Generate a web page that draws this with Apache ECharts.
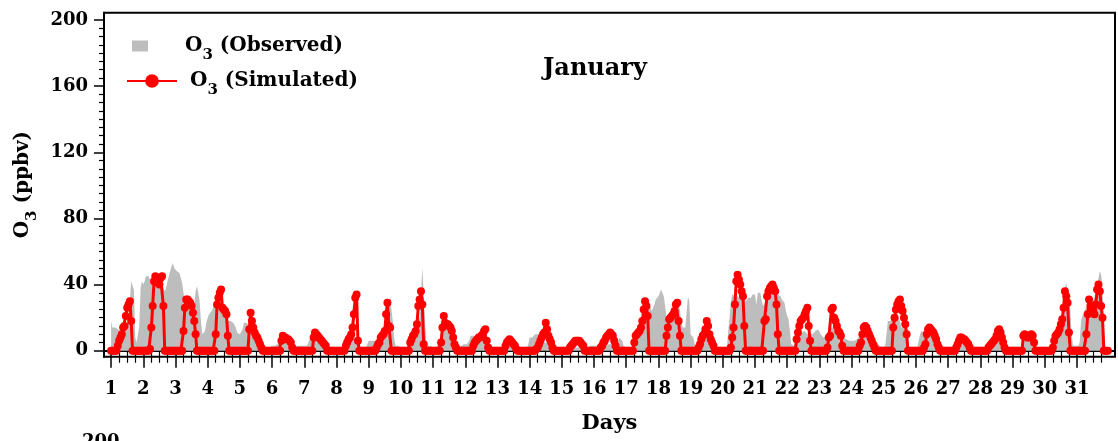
<!DOCTYPE html>
<html>
<head>
    <meta charset="utf-8">
    <script src="https://cdn.jsdelivr.net/npm/echarts@6/dist/echarts.min.js"></script>
    <style>
        body { margin: 0; background: #fff; }
    </style>
</head>
<body>
    <div id="main" style="width: 1118px; height: 441px"></div>
    <script type="text/javascript">
        // day labels on the x axis
        var days = [1,2,3,4,5,6,7,8,9,10,11,12,13,14,15,16,17,18,19,20,21,22,23,24,25,26,27,28,29,30,31];
        var yTicks = [0, 40, 80, 120, 160, 200];

        // hourly O3 (ppbv), one row of 24 hours per day of January
        var simulated = [
            [0,0,0,0,0,3,6,8,10,14,15,21,26,28,30,18,0,0,0,0,0,0,0,0],
            [0,0,0,0,0,1,14,27,42,45,43,41,40,44,45,27,0,0,0,0,0,0,0,0],
            [0,0,0,0,0,0,12,26,31,31,30,29,27,23,18,10,0,0,0,0,0,0,0,0],
            [0,0,0,0,0,0,10,28,32,35,37,26,25,24,22,9,0,0,0,0,0,0,0,0],
            [0,0,0,0,0,0,0,13,23,18,14,11,9,8,6,4,2,0,0,0,0,0,0,0],
            [0,0,0,0,0,0,0,6,9,8,8,7,7,6,5,2,0,0,0,0,0,0,0,0],
            [0,0,0,0,0,0,0,8,11,10,9,8,7,6,5,4,3,0,0,0,0,0,0,0],
            [0,0,0,0,0,0,0,3,5,7,8,10,14,22,32,34,6,0,0,0,0,0,0,0],
            [0,0,0,0,0,0,2,4,5,8,9,10,12,22,29,15,14,0,0,0,0,0,0,0],
            [0,0,0,0,0,0,0,5,7,9,10,12,16,27,31,36,28,4,0,0,0,0,0,0],
            [0,0,0,0,0,0,5,14,21,17,16,16,15,14,12,8,4,2,0,0,0,0,0,0],
            [0,0,0,0,0,0,3,5,6,7,8,8,9,10,12,13,6,2,0,0,0,0,0,0],
            [0,0,0,0,0,0,3,5,6,7,6,5,4,3,1,0,0,0,0,0,0,0,0,0],
            [0,0,0,0,0,1,2,4,6,8,10,11,17,13,9,7,5,2,0,0,0,0,0,0],
            [0,0,0,0,0,0,2,3,4,5,6,6,6,6,5,4,3,0,0,0,0,0,0,0],
            [0,0,0,0,0,2,3,5,6,8,9,10,11,10,9,6,3,0,0,0,0,0,0,0],
            [0,0,0,0,0,0,5,9,10,11,12,14,18,25,30,27,21,0,0,0,0,0,0,0],
            [0,0,0,0,0,0,9,14,19,20,21,22,24,28,29,18,9,0,0,0,0,0,0,0],
            [0,0,0,0,0,0,2,4,7,9,10,13,18,15,10,7,5,3,0,0,0,0,0,0],
            [0,0,0,0,0,0,2,8,14,28,42,46,43,40,36,33,15,0,0,0,0,0,0,0],
            [0,0,0,0,0,0,0,18,19,33,36,38,39,40,38,36,28,10,0,0,0,0,0,0],
            [0,0,0,0,0,0,0,7,11,15,18,19,20,22,24,26,15,6,0,0,0,0,0,0],
            [0,0,0,0,0,0,2,8,9,25,26,20,18,15,12,11,9,3,0,0,0,0,0,0],
            [0,0,0,0,0,0,3,5,10,14,15,14,12,10,8,6,4,2,0,0,0,0,0,0],
            [0,0,0,0,0,0,0,14,20,25,28,30,31,27,24,20,16,10,0,0,0,0,0,0],
            [0,0,0,0,0,0,2,4,10,13,14,13,12,11,9,7,4,2,0,0,0,0,0,0],
            [0,0,0,0,0,0,2,4,6,8,8,7,7,6,5,4,2,0,0,0,0,0,0,0],
            [0,0,0,0,0,0,2,3,4,5,6,7,9,12,13,11,8,5,2,0,0,0,0,0],
            [0,0,0,0,0,0,0,0,9,10,9,8,8,9,10,9,5,0,0,0,0,0,0,0],
            [0,0,0,0,0,0,2,6,9,10,11,13,16,19,26,36,33,29,11,0,0,0,0,0],
            [0,0,0,0,0,0,0,10,22,31,27,25,24,22,28,37,40,36,27,20,0,0,0,0]
        ];

        var observed = [
            [18,14,15,14,14,13,12,12,11,12,12,14,15,20,30,42,42,37,8,5,6,15,38,42],
            [40,42,45,46,45,45,41,39,40,42,43,43,44,45,40,38,36,38,42,45,48,51,53,50],
            [49,48,48,47,44,41,35,29,27,26,25,24,22,21,28,36,39,35,30,18,10,9,12,17],
            [20,22,23,24,26,27,30,33,30,27,24,23,22,21,20,18,18,18,18,17,16,14,11,10],
            [10,10,13,17,17,17,17,15,12,10,8,8,6,6,4,3,3,2,2,3,2,3,2,3],
            [3,3,3,3,4,6,7,8,8,7,6,6,6,6,4,3,3,3,3,3,3,3,3,3],
            [3,3,3,5,7,7,7,7,7,7,7,7,7,4,2,2,2,2,2,2,2,2,2,2],
            [2,2,2,2,2,6,6,6,6,6,6,12,28,15,8,6,3,2,2,2,2,2,2,2],
            [6,6,6,6,6,6,6,6,6,5,5,7,10,15,22,28,33,25,18,8,3,3,3,3],
            [2,2,2,2,2,3,4,6,6,6,6,6,12,18,20,35,50,35,17,6,3,3,3,3],
            [2,2,2,2,4,6,12,14,14,14,14,14,10,10,10,10,6,3,3,3,3,3,3,4],
            [4,4,4,6,9,9,9,9,9,9,8,8,8,8,8,8,2,2,2,2,2,2,2,2],
            [2,2,2,2,3,3,3,3,3,3,3,3,3,2,2,2,2,2,2,2,2,2,2,4],
            [8,8,8,8,10,10,10,10,10,6,5,5,5,5,5,4,4,4,4,4,4,2,2,2],
            [2,2,2,2,2,2,2,2,2,2,2,2,2,2,2,2,2,2,2,2,2,3,3,3],
            [3,3,3,3,3,3,3,3,4,4,4,4,4,4,6,6,6,6,6,8,8,6,3,2],
            [2,2,2,2,2,2,3,5,7,10,13,14,16,20,28,31,30,29,28,24,23,28,31,32],
            [33,35,37,38,33,27,20,17,18,20,24,24,25,27,28,27,25,18,14,13,14,15,33,30],
            [10,9,8,4,3,3,3,7,8,7,8,9,10,10,9,10,9,5,4,3,2,2,2,2],
            [2,2,2,2,12,20,30,34,33,33,32,33,32,31,32,33,32,30,31,32,31,32,34,35],
            [34,28,35,36,35,30,27,28,30,32,33,34,35,35,34,33,34,34,33,33,31,30,29,24],
            [21,19,12,4,3,3,4,9,10,9,10,11,12,12,11,10,9,10,9,10,11,12,13,13],
            [12,10,9,8,8,9,10,12,13,14,13,14,13,12,8,7,8,7,8,7,7,6,6,6],
            [6,7,6,6,7,8,9,8,10,12,13,12,13,12,10,7,6,7,6,5,4,3,2,2],
            [2,3,10,18,19,18,19,20,22,23,22,21,18,14,13,14,13,12,4,2,2,2,2,2],
            [2,2,2,10,12,13,11,10,10,10,10,10,10,10,10,9,2,2,2,2,2,2,2,2],
            [2,2,2,2,2,2,8,8,8,8,8,8,8,8,8,4,2,2,2,2,2,2,2,2],
            [2,2,2,2,2,2,2,6,6,6,6,6,12,12,12,12,12,2,2,2,2,2,2,2],
            [2,2,2,2,2,2,2,2,8,8,8,8,8,8,8,8,2,2,2,2,2,2,2,2],
            [2,2,2,2,2,2,2,5,7,8,10,15,17,20,30,38,41,40,30,25,10,3,3,3],
            [3,3,5,18,21,22,25,26,27,28,29,28,30,32,36,38,44,48,46,38,15,2,1,1]
        ];

        var FONT = 'DejaVu Serif';

        function hourly(rows) {
            var out = [];
            for (var d = 0; d < rows.length; d++) {
                for (var h = 0; h < rows[d].length; h++) {
                    out.push([days[d] + h / 24, rows[d][h]]);
                }
            }
            return out;
        }

        function minorValues(from, to, step, skip) {
            var out = [];
            for (var v = from; v <= to + 1e-9; v += step) {
                if (Math.abs(v / skip - Math.round(v / skip)) > 1e-6) out.push(+v.toFixed(4));
            }
            return out;
        }

        var subRich = {
            b: { fontFamily: FONT, fontWeight: 'bold', fontSize: 20, lineHeight: 34, color: '#000' },
            s: { fontFamily: FONT, fontWeight: 'bold', fontSize: 15, lineHeight: 15, verticalAlign: 'bottom', color: '#000' },
            sp: { width: 32 },
            sp2: { width: 8 }
        };

        window.onload = function () {
            var myChart = echarts.init(document.getElementById('main'));
            var xMin = 0.78, xMax = 32.18, yMin = -3.6, yMax = 204.4;
            var tickFont = { fontFamily: FONT, fontWeight: 'bold', fontSize: 18, color: '#000' };

            option = {
                animation: false,
                title: {
                    text: 'January',
                    left: 543,
                    top: 57,
                    padding: 0,
                    textStyle: { fontFamily: FONT, fontWeight: 'bold', fontSize: 24, color: '#000' }
                },
                legend: [{
                    data: [{ name: 'obs', icon: 'rect' }],
                    left: 132,
                    top: 36,
                    padding: 0,
                    itemWidth: 16,
                    itemHeight: 11,
                    selectedMode: false,
                    formatter: function () { return '{sp|}{b|O}{s|3}{b| (Observed)}'; },
                    textStyle: { rich: subRich }
                }, {
                    data: ['sim'],
                    left: 126,
                    top: 71,
                    padding: 0,
                    itemWidth: 50,
                    itemHeight: 17,
                    selectedMode: false,
                    formatter: function () { return '{sp2|}{b|O}{s|3}{b| (Simulated)}'; },
                    textStyle: { rich: subRich }
                }],
                grid: {
                    left: 104,
                    right: 3,
                    top: 12.7,
                    bottom: 84.3,
                    show: true,
                    borderColor: '#000',
                    borderWidth: 2,
                    outerBoundsMode: 'none'
                },
                // the x axes sit on the zero line, so their ticks are made long
                // enough to reach below the frame
                xAxis: [{
                    type: 'value',
                    position: 'bottom',
                    min: xMin,
                    max: xMax,
                    name: 'Days',
                    nameLocation: 'middle',
                    nameGap: 56,
                    nameTextStyle: { fontFamily: FONT, fontWeight: 'bold', fontSize: 21, color: '#000' },
                    axisLine: { lineStyle: { color: '#000', width: 2 } },
                    axisTick: { customValues: days, length: 17, lineStyle: { color: '#000', width: 1.5 } },
                    axisLabel: Object.assign({ customValues: days, margin: 24 }, tickFont),
                    splitLine: { show: false }
                }, {
                    type: 'value',
                    position: 'bottom',
                    min: xMin,
                    max: xMax,
                    axisLine: { show: false },
                    axisTick: { show: true, customValues: minorValues(1, 31.75, 0.25, 1), length: 12, lineStyle: { color: '#000', width: 1.2 } },
                    axisLabel: { show: false },
                    splitLine: { show: false }
                }],
                yAxis: [{
                    type: 'value',
                    position: 'left',
                    min: yMin,
                    max: yMax,
                    name: '{b|O}{s|3}{b| (ppbv)}',
                    nameLocation: 'middle',
                    nameGap: 62,
                    nameTextStyle: { rich: subRich },
                    axisLine: { lineStyle: { color: '#000', width: 2 } },
                    axisTick: { customValues: yTicks, length: 10, lineStyle: { color: '#000', width: 1.5 } },
                    axisLabel: Object.assign({ customValues: yTicks, margin: 16 }, tickFont),
                    splitLine: { show: false }
                }, {
                    type: 'value',
                    position: 'left',
                    min: yMin,
                    max: yMax,
                    axisLine: { show: false },
                    axisTick: { show: true, customValues: minorValues(0, 200, 5, 40), length: 5, lineStyle: { color: '#000', width: 1.2 } },
                    axisLabel: { show: false },
                    splitLine: { show: false }
                }],
                series: [{
                    name: 'obs',
                    type: 'line',
                    data: hourly(observed),
                    symbol: 'none',
                    lineStyle: { width: 0 },
                    itemStyle: { color: '#bdbdbd' },
                    areaStyle: { color: '#bdbdbd', opacity: 1 },
                    z: 1
                }, {
                    name: 'sim',
                    type: 'line',
                    data: hourly(simulated),
                    symbol: 'circle',
                    symbolSize: 8,
                    showAllSymbol: true,
                    itemStyle: { color: '#ff0000' },
                    lineStyle: { color: '#ff0000', width: 3 },
                    z: 3
                }],
                graphic: [{
                    type: 'text',
                    left: 82,
                    top: 433,
                    style: { text: '200', fontFamily: FONT, fontWeight: 'bold', fontSize: 18, fill: '#000' }
                }]
            };
            myChart.setOption(option);
        }
    </script>
</body>
</html>
